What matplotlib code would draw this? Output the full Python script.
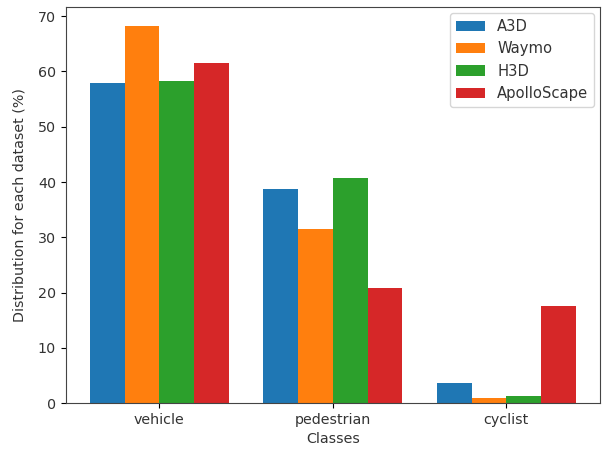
import numpy as np
import matplotlib
matplotlib.use("Agg")
import matplotlib.pyplot as plt

classes = ["vehicle", "pedestrian", "cyclist"]
datasets = ["A3D", "Waymo", "H3D", "ApolloScape"]
a3d = [57.9, 38.7, 3.6]
waymo = [68.2, 31.5, 0.9]
h3d = [58.3, 40.7, 1.3]
apollo = [61.5, 20.9, 17.5]

plt.rcParams["font.size"] = 10.3
plt.rcParams["text.color"] = "#333333"
plt.rcParams["xtick.labelcolor"] = "#333333"
plt.rcParams["ytick.labelcolor"] = "#333333"
plt.rcParams["axes.edgecolor"] = "#444444"

fig, ax = plt.subplots(figsize=(6.03, 4.5), dpi=100)
fig.subplots_adjust(left=0.109, right=0.995, bottom=0.104, top=0.984)

x = np.arange(len(classes))
width = 0.2
for i, (name, vals) in enumerate(zip(datasets, [a3d, waymo, h3d, apollo])):
    ax.bar(x + (i - 1.5) * width, vals, width, label=name)

ax.set_xticks(x)
ax.set_xticklabels(classes)
ax.set_xlabel("Classes", color="#333333")
ax.set_ylabel("Distribution for each dataset (%)", color="#333333", labelpad=8)
ax.legend(fontsize=10.6, borderaxespad=0.4)

fig.savefig("out.png")
